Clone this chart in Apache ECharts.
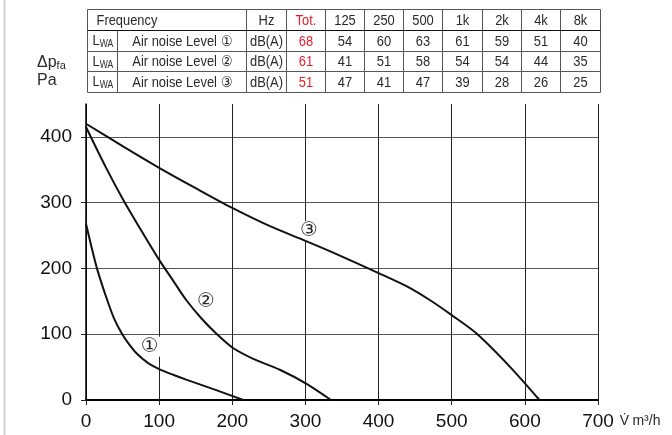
<!DOCTYPE html>
<html>
<head>
<meta charset="utf-8">
<script src="https://cdn.jsdelivr.net/npm/echarts@6/dist/echarts.min.js"></script>
<style>
html,body{margin:0;padding:0;background:#fff;}
#chart{width:672px;height:435px;}
</style>
</head>
<body>
<div id="chart"></div>
<script>
// ---- data ----
const xTicks = [0, 100, 200, 300, 400, 500, 600, 700];
const yTicks = [0, 100, 200, 300, 400];
const curve1 = [[0,268],[7,235],[14.5,202],[22,175],[29,152],[38,125],[49,101],[58,86],[69,71],[85,56],[100,47],[120,38],[137,31],[178,15],[215,0]];
const curve2 = [[0,415],[27,354],[51,304],[78,253],[100,213],[120,180],[137,152],[157,125],[178,101],[201,79],[228,63],[265,46],[301,25],[335,0]];
const curve3 = [[0,420],[50,386],[100,353],[150,322],[200,292],[250,265],[300,242],[334,226],[400,193],[440,172],[470,152],[500,129],[534,101],[580,50],[620,0]];
const curveLabels = ['①', '②', '③'];
const labelPos = [[87, 81], [164, 150], [305, 257]];

const headerFreq = 'Frequency';
const headerUnit = 'Hz';
const headerTot = 'Tot.';
const freqBands = ['125', '250', '500', '1k', '2k', '4k', '8k'];
const levelNames = ['Air noise Level ①', 'Air noise Level ②', 'Air noise Level ③'];
const levelUnit = 'dB(A)';
const totals = [68, 61, 51];
const level1 = [54, 60, 63, 61, 59, 51, 40];
const level2 = [41, 51, 58, 54, 54, 44, 35];
const level3 = [47, 41, 47, 39, 28, 26, 25];
const levelValues = [level1, level2, level3];

// ---- layout ----
const colEdges = [87.5, 117.5, 246.5, 286.5, 325.5, 364.5, 403.5, 442.5, 482.5, 521.5, 560.5, 600.5];
const rowEdges = [9.5, 30.5, 51.5, 71.5, 92.5];
const RED = '#e3212d';
const INK = '#2a2a2a';
const FONT = '"Liberation Sans", Arial, sans-serif';
const tableFont = '15px ' + FONT;
const NARROW = 0.86;

const g = [];
function cellRect(c0, c1, r) {
  g.push({type:'rect', silent:true, shape:{x:colEdges[c0], y:rowEdges[r], width:colEdges[c1]-colEdges[c0], height:rowEdges[r+1]-rowEdges[r]},
    style:{fill:'#fff', stroke:'#555', lineWidth:1}});
}
function cellText(c0, c1, r, text, color, alignLeft) {
  g.push({type:'text', silent:true, z:10,
    x: alignLeft ? colEdges[c0] + 9 : (colEdges[c0]+colEdges[c1])/2,
    y: (rowEdges[r]+rowEdges[r+1])/2 + 0.5,
    scaleX: NARROW,
    style:{text:String(text), x:0, y:0, align: alignLeft ? 'left' : 'center', verticalAlign:'middle', font:tableFont, fill:color || INK}});
}
// header row
cellRect(0, 2, 0); cellText(0, 2, 0, headerFreq, null, true);
cellRect(2, 3, 0); cellText(2, 3, 0, headerUnit);
cellRect(3, 4, 0); cellText(3, 4, 0, headerTot, RED);
freqBands.forEach((f, i) => { cellRect(4+i, 5+i, 0); cellText(4+i, 5+i, 0, f); });
// level rows
levelNames.forEach((name, r) => {
  const row = r + 1;
  cellRect(0, 1, row);
  g.push({type:'text', silent:true, z:10, x:colEdges[0]+5, y:(rowEdges[row]+rowEdges[row+1])/2, scaleX: NARROW,
    style:{text:'{l|L}{s|WA}', x:0, y:0, align:'left', verticalAlign:'middle',
      rich:{l:{font:tableFont, fill:INK}, s:{font:'10px ' + FONT, fill:INK, padding:[7,0,0,0]}}}});
  cellRect(1, 2, row); cellText(1, 2, row, name);
  cellRect(2, 3, row); cellText(2, 3, row, levelUnit);
  cellRect(3, 4, row); cellText(3, 4, row, totals[r], RED);
  levelValues[r].forEach((v, i) => { cellRect(4+i, 5+i, row); cellText(4+i, 5+i, row, v); });
});
// header bottom line
g.push({type:'line', silent:true, z:11, shape:{x1:colEdges[0], y1:rowEdges[1], x2:colEdges[colEdges.length-1], y2:rowEdges[1]}, style:{stroke:'#111', lineWidth:1}});
// left light frame
g.push({type:'line', silent:true, shape:{x1:4.5, y1:0, x2:4.5, y2:435}, style:{stroke:'#d4d4d4', lineWidth:2}});
// y axis title
g.push({type:'text', silent:true,
  style:{text:'{a|Δp}{s|fa}\n{a|Pa}', x:37, y:54, align:'left', verticalAlign:'top',
    rich:{a:{font:'16px ' + FONT, fill:INK, lineHeight:18},
          s:{font:'11px ' + FONT, fill:INK, padding:[6,0,0,0]}}}});

const curves = [curve1, curve2, curve3];
const series = curves.map((c, i) => ({
  type:'line', name: curveLabels[i], data:c, smooth:0.3, showSymbol:false, symbol:'none',
  lineStyle:{color:'#111', width:2}, z:5, silent:true,
  markPoint:{symbol:'circle', symbolSize:1, itemStyle:{color:'rgba(0,0,0,0)'}, silent:true,
    data:[{coord:labelPos[i], value:curveLabels[i]}],
    label:{show:true, position:'inside', formatter:curveLabels[i], color:INK, fontSize:20,
      fontFamily:'"DejaVu Sans", sans-serif', backgroundColor:'#fff', padding:[0,2,0,2]}}
}));

const chart = echarts.init(document.getElementById('chart'), null, {renderer:'canvas'});
chart.setOption({
  animation:false,
  backgroundColor:'#fff',
  grid:{left:86, right:74, top:104, bottom:35, containLabel:false, outerBoundsMode:'none'},
  xAxis:{type:'value', min:0, max:700, interval:100,
    name:'{v|V̇} {u|m³/h}', nameLocation:'end', nameGap:19,
    nameTextStyle:{verticalAlign:'top', padding:[14,0,0,0],
      rich:{v:{fontSize:14, fontFamily:FONT, color:INK},
            u:{fontSize:14, fontFamily:FONT, color:INK}}},
    axisLine:{show:true, onZero:false, lineStyle:{color:'#000', width:2}},
    axisTick:{show:true, length:5, inside:false, lineStyle:{color:'#222'}, customValues: xTicks},
    axisLabel:{color:'#111', fontSize:19, fontFamily:FONT, margin:12, customValues: xTicks},
    splitLine:{show:true, lineStyle:{color:'#222', width:1}}
  },
  yAxis:{type:'value', min:0, max:450, interval:50,
    axisLine:{show:true, onZero:false, lineStyle:{color:'#000', width:1.5}},
    axisTick:{show:true, length:5, lineStyle:{color:'#222'}, customValues: yTicks},
    axisLabel:{color:'#111', fontSize:19, fontFamily:FONT, margin:14, customValues: yTicks},
    splitLine:{show:true, lineStyle:{color:'#555', width:1}}
  },
  series: series,
  graphic: g
});
</script>
</body>
</html>
